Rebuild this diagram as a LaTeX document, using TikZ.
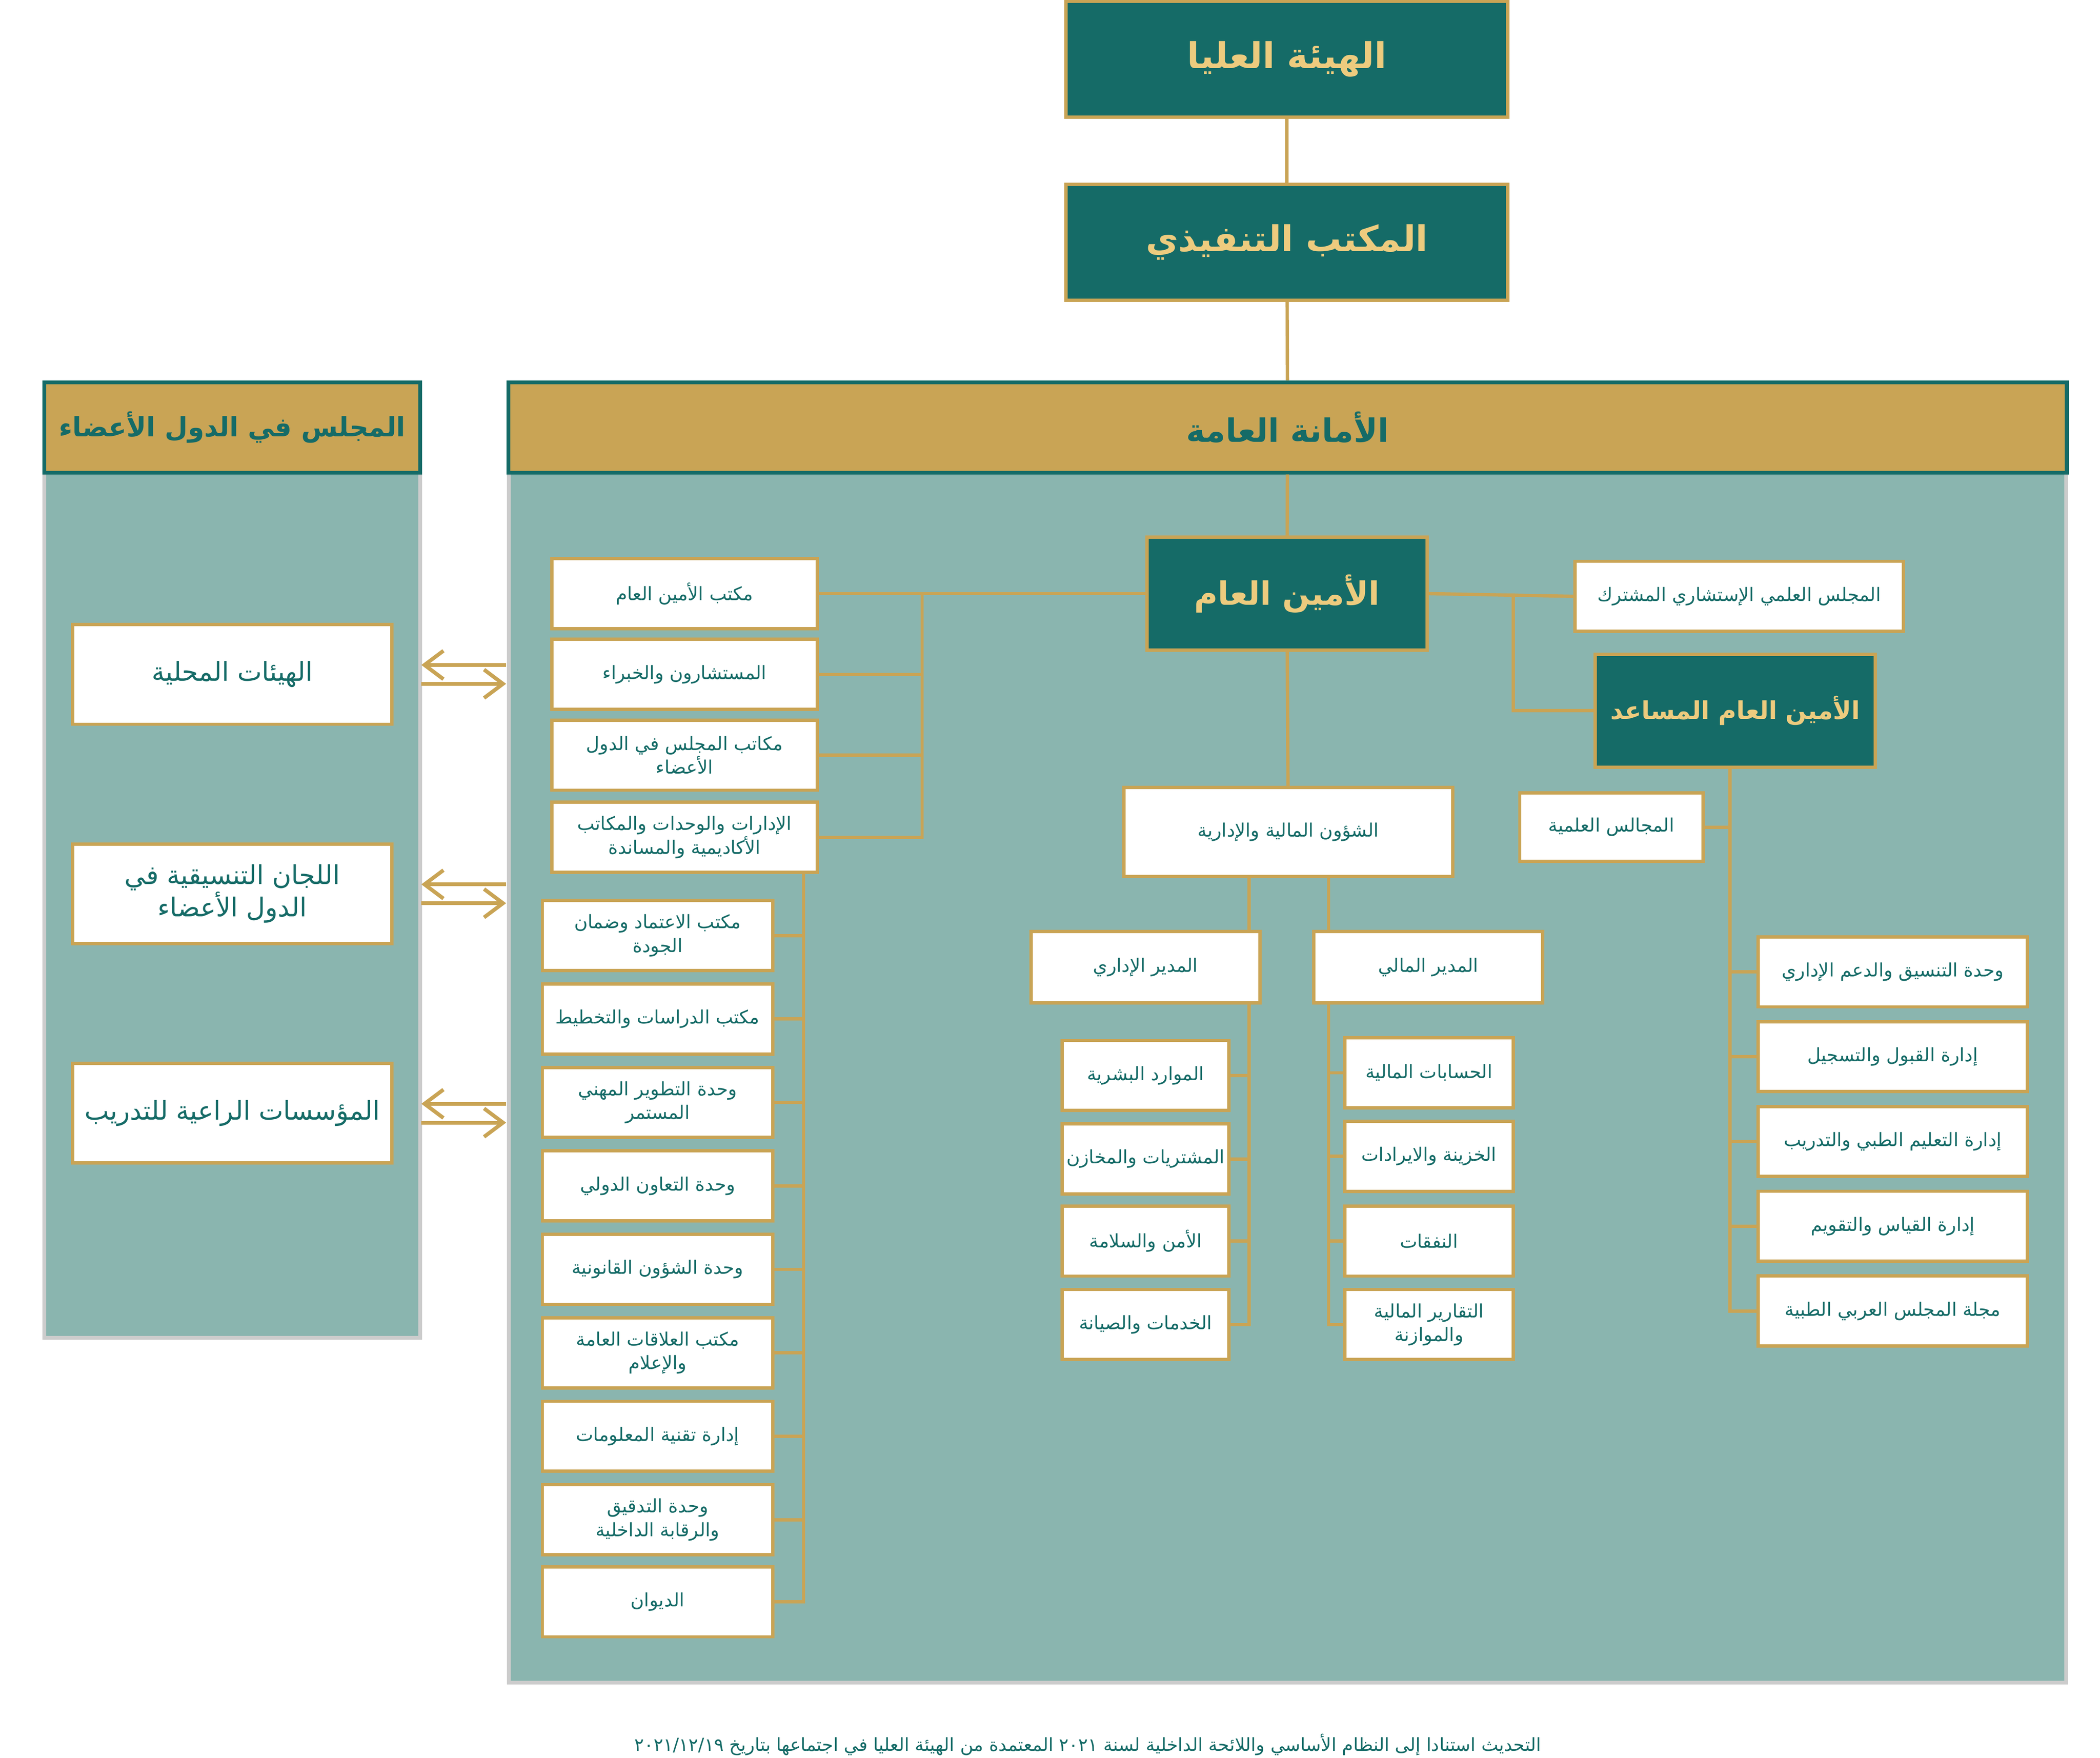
\documentclass[tikz,border=0pt]{standalone}
\usepackage{fontspec}
\newfontfamily\arabicfont[Script=Arabic]{DejaVu Sans}
\TeXXeTstate=1
\usetikzlibrary{arrows.meta}
\definecolor{teal}{HTML}{156B67}
\definecolor{gold}{HTML}{C9A455}
\definecolor{paleteal}{HTML}{8AB5AF}
\definecolor{lightgold}{HTML}{EDCB7E}
\newcommand{\ar}[1]{{\arabicfont\beginR #1\endR}}

\begin{document}
\begin{tikzpicture}[x=0.01cm,y=-0.01cm,
  darkbox/.style={draw=gold,fill=teal,line width=0.7pt,text=lightgold,inner sep=0pt,align=center},
  whitebox/.style={draw=gold,fill=white,line width=0.7pt,text=teal,inner sep=0pt,align=center},
  headbox/.style={draw=teal,fill=gold,line width=0.8pt,text=teal,inner sep=0pt,align=center,font=\fontsize{6.8}{8}\bfseries},
  link/.style={draw=gold,line width=0.7pt},
  dbl/.style={draw=gold,line width=0.8pt,-{Straight Barb[length=4pt,width=6pt]}},
  small/.style={font=\fontsize{3.9}{5}\selectfont},
  mid/.style={font=\fontsize{5.5}{6.8}\selectfont}]
\useasboundingbox (0,0) rectangle (1560,1306);

% panels
\draw[draw=gray!40,fill=paleteal,line width=0.8pt] (378,351) rectangle (1535,1250);
\draw[draw=gray!40,fill=paleteal,line width=0.8pt] (33,351) rectangle (312,994);
\node[headbox,minimum width=11.57cm,minimum height=0.67cm] (amana) at (956.5,317.5) {\ar{الأمانة العامة}};
\node[headbox,minimum width=2.79cm,minimum height=0.67cm,font=\fontsize{5.6}{7}\bfseries] (council) at (172.5,317.5) {\ar{المجلس في الدول الأعضاء}};

% top
\node[darkbox,minimum width=3.28cm,minimum height=0.86cm,font=\fontsize{7.5}{9}\bfseries] (board) at (956,44) {\ar{الهيئة العليا}};
\node[darkbox,minimum width=3.28cm,minimum height=0.86cm,font=\fontsize{7.5}{9}\bfseries] (exec) at (956,180) {\ar{المكتب التنفيذي}};
\node[darkbox,minimum width=2.08cm,minimum height=0.84cm,font=\fontsize{6.8}{8}\bfseries] (sg) at (956,441) {\ar{الأمين العام}};
\node[darkbox,minimum width=2.08cm,minimum height=0.84cm,font=\fontsize{5.2}{6}\bfseries] (asg) at (1289,528) {\ar{الأمين العام المساعد}};
\node[whitebox,small,minimum width=2.44cm,minimum height=0.52cm] (advisory) at (1292,443) {\ar{المجلس العلمي الإستشاري المشترك}};

\draw[link] (board) -- (exec);
\draw[link] (exec) -- (amana);
\draw[link] (amana) -- (sg);

% left country boxes
\node[whitebox,mid,minimum width=2.37cm,minimum height=0.74cm] (local) at (172.5,501) {\ar{الهيئات المحلية}};
\node[whitebox,mid,minimum width=2.37cm,minimum height=0.74cm] (coord) at (172.5,664) {\ar{اللجان التنسيقية في}\\\ar{الدول الأعضاء}};
\node[whitebox,mid,minimum width=2.37cm,minimum height=0.74cm] (sponsor) at (172.5,827) {\ar{المؤسسات الراعية للتدريب}};
\foreach \yy/\nm in {494/a,657/b,820/c}{
  \coordinate (l\nm) at (313,\yy); \coordinate (r\nm) at (376,\yy);
  \draw[dbl] (r\nm) -- (l\nm);
  \draw[dbl] ([yshift=-0.14cm]l\nm) -- ([yshift=-0.14cm]r\nm);
}

% offices of the secretary general
\node[whitebox,small,minimum width=1.97cm,minimum height=0.52cm] (off1) at (508.5,441) {\ar{مكتب الأمين العام}};
\node[whitebox,small,minimum width=1.97cm,minimum height=0.52cm] (off2) at (508.5,501) {\ar{المستشارون والخبراء}};
\node[whitebox,small,minimum width=1.97cm,minimum height=0.52cm] (off3) at (508.5,561) {\ar{مكاتب المجلس في الدول}\\\ar{الأعضاء}};
\node[whitebox,small,minimum width=1.97cm,minimum height=0.52cm] (off4) at (508.5,622) {\ar{الإدارات والوحدات والمكاتب}\\\ar{الأكاديمية والمساندة}};
\coordinate (lbus) at (685,441);
\draw[link] (sg.west) -- (off1.east);
\draw[link] (lbus) |- (off4.east);
\foreach \n in {off2,off3}{\draw[link] (lbus |- \n.east) -- (\n.east);}

% units
\foreach \n/\yy/\txt in {
  u1/695/{\ar{مكتب الاعتماد وضمان}\\\ar{الجودة}},
  u2/757/{\ar{مكتب الدراسات والتخطيط}},
  u3/819/{\ar{وحدة التطوير المهني}\\\ar{المستمر}},
  u4/881/{\ar{وحدة التعاون الدولي}},
  u5/943/{\ar{وحدة الشؤون القانونية}},
  u6/1005/{\ar{مكتب العلاقات العامة}\\\ar{والإعلام}},
  u7/1067/{\ar{إدارة تقنية المعلومات}},
  u8/1129/{\ar{وحدة التدقيق}\\\ar{والرقابة الداخلية}},
  u9/1190/{\ar{الديوان}}}{
  \node[whitebox,small,minimum width=1.71cm,minimum height=0.52cm] (\n) at (488.5,\yy) {\txt};
}
\coordinate (ubus) at (597,648);
\draw[link] (ubus) |- (u9.east);
\foreach \n in {u1,u2,u3,u4,u5,u6,u7,u8}{\draw[link] (ubus |- \n.east) -- (\n.east);}

% finance and administration
\node[whitebox,small,minimum width=2.44cm,minimum height=0.66cm] (fa) at (957,618) {\ar{الشؤون المالية والإدارية}};
\draw[link] (sg) -- (fa);
\node[whitebox,small,minimum width=1.70cm,minimum height=0.53cm] (admdir) at (851,718.5) {\ar{المدير الإداري}};
\node[whitebox,small,minimum width=1.70cm,minimum height=0.53cm] (findir) at (1061,718.5) {\ar{المدير المالي}};
\draw[link] (fa.south -| 928,0) -- (928,692);
\draw[link] (fa.south -| 987,0) -- (987,692);
\foreach \n/\yy/\txt in {a1/799/{\ar{الموارد البشرية}},a2/861/{\ar{المشتريات والمخازن}},a3/922/{\ar{الأمن والسلامة}},a4/984/{\ar{الخدمات والصيانة}}}{
  \node[whitebox,small,minimum width=1.24cm,minimum height=0.52cm] (\n) at (851,\yy) {\txt};
}
\foreach \n/\yy/\txt in {f1/797/{\ar{الحسابات المالية}},f2/859/{\ar{الخزينة والايرادات}},f3/922/{\ar{النفقات}},f4/984/{\ar{التقارير المالية}\\\ar{والموازنة}}}{
  \node[whitebox,small,minimum width=1.25cm,minimum height=0.52cm] (\n) at (1061.5,\yy) {\txt};
}
\coordinate (abus) at (928,745);
\coordinate (fbus) at (987,745);
\draw[link] (abus) |- (a4.east);
\draw[link] (fbus) |- (f4.west);
\foreach \n in {a1,a2,a3}{\draw[link] (abus |- \n.east) -- (\n.east);}
\foreach \n in {f1,f2,f3}{\draw[link] (fbus |- \n.west) -- (\n.west);}

% deputy side
\coordinate (rbus) at (1124,441);
\draw[link] (sg.east) -- (advisory.west);
\draw[link] (rbus) |- (asg.west);
\node[whitebox,small,minimum width=1.36cm,minimum height=0.51cm] (sci) at (1197,614.5) {\ar{المجالس العلمية}};
\foreach \n/\yy/\txt in {d1/722/{\ar{وحدة التنسيق والدعم الإداري}},d2/785/{\ar{إدارة القبول والتسجيل}},d3/848/{\ar{إدارة التعليم الطبي والتدريب}},d4/911/{\ar{إدارة القياس والتقويم}},d5/974/{\ar{مجلة المجلس العربي الطبية}}}{
  \node[whitebox,small,minimum width=2.0cm,minimum height=0.52cm] (\n) at (1406,\yy) {\txt};
}
\coordinate (dbus) at (1285,570);
\draw[link] (dbus) |- (d5.west);
\draw[link] (dbus |- sci.east) -- (sci.east);
\foreach \n in {d1,d2,d3,d4}{\draw[link] (dbus |- \n.west) -- (\n.west);}

% footer
\node[text=teal,font=\fontsize{3.8}{4.5}\selectfont,inner sep=0pt] (note) at (808,1296) {\ar{التحديث استنادا إلى النظام الأساسي واللائحة الداخلية لسنة ٢٠٢١ المعتمدة من الهيئة العليا في اجتماعها بتاريخ ٢٠٢١/١٢/١٩}};
\end{tikzpicture}
\end{document}
